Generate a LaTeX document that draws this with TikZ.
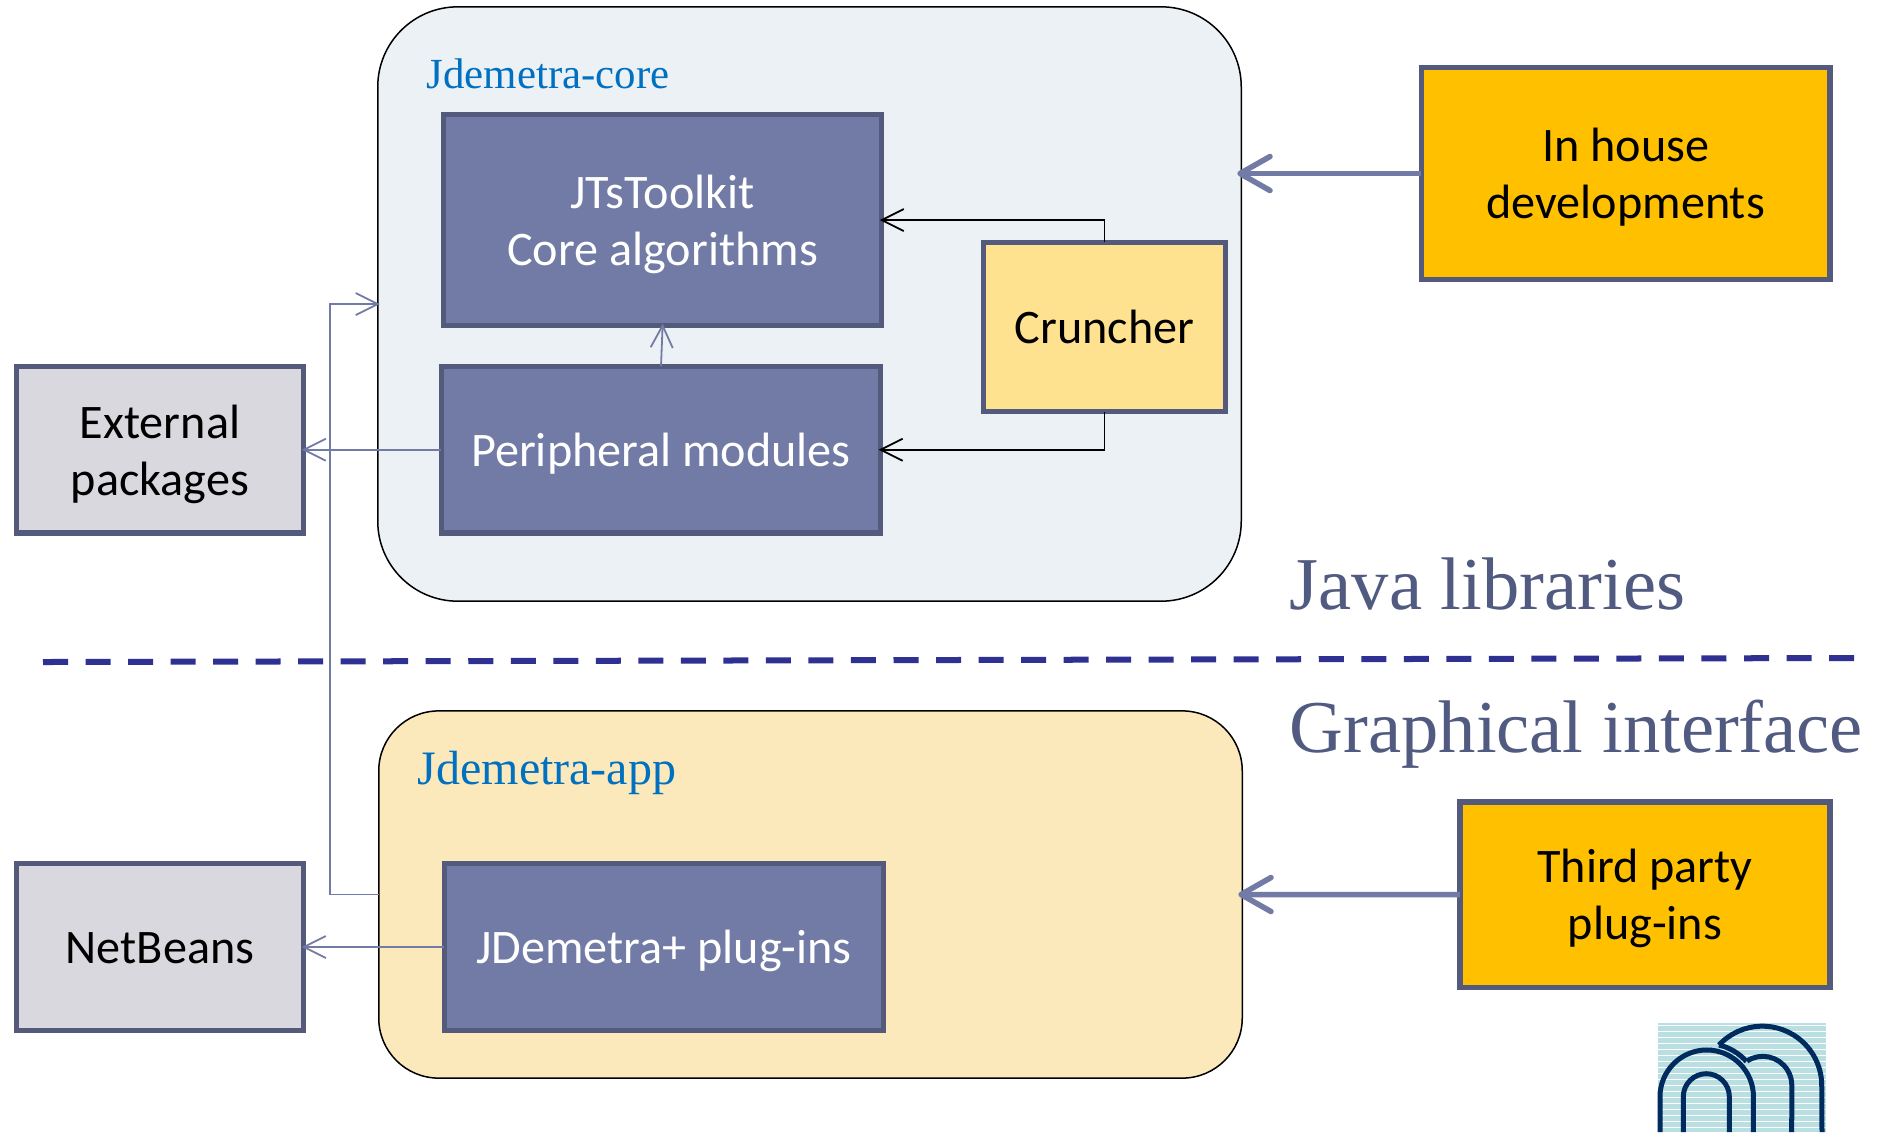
\documentclass[tikz,border=0pt]{standalone}
\usepackage{fontspec}
\setmainfont{Carlito}
\newfontfamily\timesfont{Liberation Serif}
\usetikzlibrary{arrows.meta}
\definecolor{panelblue}{HTML}{ECF1F5}
\definecolor{panelyellow}{HTML}{FBE9BC}
\definecolor{boxblue}{HTML}{727BA5}
\definecolor{boxedge}{HTML}{545A7C}
\definecolor{boxgray}{HTML}{D9D8DE}
\definecolor{boxorange}{HTML}{FFC000}
\definecolor{boxyellow}{HTML}{FFE28F}
\definecolor{titleblue}{HTML}{0070C0}
\definecolor{layertext}{HTML}{515A80}
\definecolor{dashblue}{HTML}{2E3192}
\definecolor{logoblue}{HTML}{002B5E}
\definecolor{logostripe}{HTML}{B9DFE2}
\begin{document}
\begin{tikzpicture}[x=0.01cm, y=-0.01cm,
box/.style={shape=rectangle, draw=boxedge, line width=0.053cm, outer sep=0pt, align=center, font=\fontsize{13.7pt}{16.2pt}\selectfont,
  execute at begin node={\rule{0pt}{.9em}}, execute at end node={\rule[-.2em]{0pt}{.2em}}},
twolines/.style={execute at begin node={\rule{0pt}{2.08em}}},
darkbox/.style={box, fill=boxblue, text=white},
graybox/.style={box, fill=boxgray, text=black},
orangebox/.style={box, fill=boxorange, text=black},
panel/.style={shape=rectangle, draw=black, line width=0.015cm, outer sep=0pt},
paneltitle/.style={anchor=base west, text=titleblue, inner sep=0pt},
layertitle/.style={anchor=base west, text=layertext, inner sep=0pt, font=\timesfont\fontsize{21.2pt}{25pt}\selectfont},
thinarrow/.style={draw=boxblue, line width=0.018cm, shorten >=-0.02cm, -{Straight Barb[length=0.22cm, width=0.22cm]}},
blackarrow/.style={draw=black, line width=0.018cm, shorten >=-0.02cm, -{Straight Barb[length=0.22cm, width=0.22cm]}},
thickarrow/.style={draw=boxblue, line width=0.055cm, shorten >=-0.04cm, -{Straight Barb[length=0.3cm, width=0.34cm, round]}},
logoline/.style={draw=logoblue, line width=0.05cm}]
\useasboundingbox (0,0) rectangle (1881,1132);
\node[panel, fill=panelblue, rounded corners=0.8cm, minimum width=8.63cm, minimum height=5.94cm] (core) at (809.5,304) {};
\node[panel, fill=panelyellow, rounded corners=0.6cm, minimum width=8.63cm, minimum height=3.67cm] (app) at (810.5,894.5) {};
\node[paneltitle, font=\timesfont\fontsize{12.2pt}{15pt}\selectfont] (coretitle) at (426,88) {Jdemetra-core};
\node[paneltitle, font=\timesfont\fontsize{13.65pt}{16pt}\selectfont] (apptitle) at (417,784) {Jdemetra-app};
\node[darkbox, twolines, minimum width=4.38cm, minimum height=2.11cm] (jts) at (662.6,220) {JTsToolkit\\Core algorithms};
\node[darkbox, minimum width=4.39cm, minimum height=1.665cm] (periph) at (661,449.7) {Peripheral modules};
\node[box, fill=boxyellow, minimum width=2.42cm, minimum height=1.69cm] (cruncher) at (1104.5,327) {Cruncher};
\node[graybox, twolines, minimum width=2.875cm, minimum height=1.665cm] (external) at (160,449.7) {External\\packages};
\node[graybox, minimum width=2.875cm, minimum height=1.67cm] (netbeans) at (160,947) {NetBeans};
\node[darkbox, minimum width=4.39cm, minimum height=1.67cm] (plugins) at (664,947) {JDemetra+ plug-ins};
\node[orangebox, twolines, minimum width=4.085cm, minimum height=2.12cm] (inhouse) at (1625.7,173.5) {In house\\developments};
\node[orangebox, twolines, minimum width=3.70cm, minimum height=1.85cm] (thirdparty) at (1645,894.6) {Third party\\plug-ins};
\node[layertitle] (javalibs) at (1289,609) {Java libraries};
\node[layertitle] (guilabel) at (1289,752) {Graphical interface};
\coordinate (dashstart) at (43,662);
\coordinate (dashend) at (1856,658);
\coordinate (bus) at (330,600);
\draw[draw=dashblue, line width=0.06cm, dash pattern=on 0.25cm off 0.175cm] (dashstart) -- (dashend);
\path [thickarrow] (inhouse.west) -- (core.east |- inhouse);
\path [thickarrow] (thirdparty.west) -- (app.east);
\path [blackarrow] (cruncher.north) |- (jts.east);
\path [blackarrow] (cruncher.south) |- (periph.east);
\path [thinarrow] (periph.north) -- (jts.south);
\path [thinarrow] (periph.west) -- (external.east);
\path [thinarrow] (plugins.west) -- (netbeans.east);
\path [thinarrow] (app.west) -| (bus) |- (core.west);
\fill[logostripe] (1658,1023) rectangle (1826,1132);
\foreach \ypos in {1025,1031,...,1131} \draw[white, line width=0.01cm] (1658,\ypos) -- (1826,\ypos);
\draw[logoline] (1660,1132) -- (1660,1096.7) arc[start angle=180, end angle=0, radius=0.467cm] -- (1753.4,1132);
\draw[logoline] (1683.3,1132) -- (1683.3,1096.7) arc[start angle=180, end angle=0, radius=0.23cm] -- (1729.3,1132);
\draw[logoline] (1719,1045) arc[start angle=137, end angle=0, radius=0.593cm] -- (1822,1132);
\draw[logoline] (1747,1061) arc[start angle=123, end angle=0, radius=0.29cm] -- (1791.7,1132);
\draw[logoline] (1719,1045) arc[start angle=76.6, end angle=41.5, radius=0.53cm];
\end{tikzpicture}
\end{document}
